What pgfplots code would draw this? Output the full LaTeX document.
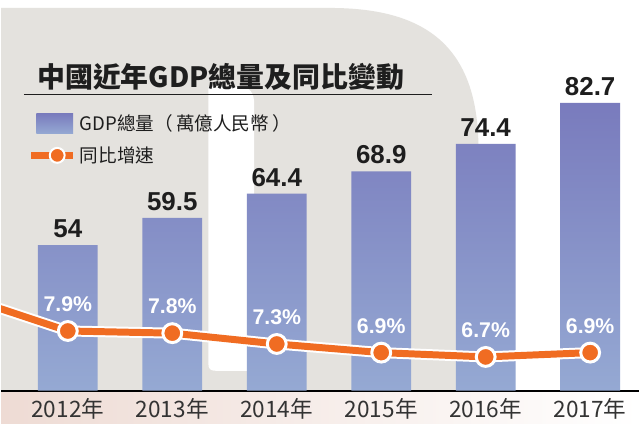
\documentclass[border=0pt]{standalone}
\usepackage{pgfplots}
\usepackage{pgfplotstable}
\pgfplotsset{compat=1.18}
\usepackage{fontspec}
\setmainfont{Liberation Sans}
\newfontfamily\cjk{Noto Sans CJK TC}
\definecolor{bgGray}{HTML}{E4E2DE}
\definecolor{barTop}{HTML}{797BBD}
\definecolor{barBot}{HTML}{95A9D3}
\definecolor{lineOr}{HTML}{F06C22}
\definecolor{txt}{HTML}{1E1E1E}
\definecolor{tick}{HTML}{333333}
\definecolor{pinkband}{HTML}{EEDBD4}

\pgfplotstableread{
x y lab
0 54 54
1 59.5 59.5
2 64.4 64.4
3 68.9 68.9
4 74.4 74.4
5 82.7 82.7
}\gdptab
\pgfplotstableread{
x y lab
0 7.9 7.9
1 7.8 7.8
2 7.3 7.3
3 6.9 6.9
4 6.7 6.7
5 6.9 6.9
}\growtab
\pgfplotstableread{
x y
-1 9.5
0 7.9
1 7.8
2 7.3
3 6.9
4 6.7
5 6.9
}\growline

\begin{document}
\begin{tikzpicture}[x=0.75pt,y=0.75pt]
% background (decorative)
\fill[white] (0,0) rectangle (640,425);
\shade[left color=pinkband, right color=white] (0,0) rectangle (640,33);
\fill[bgGray] (0,33) -- (0,417) -- (330,417) .. controls (430,417) and (479,375) .. (479,275) -- (479,45) .. controls (479,37) and (475,33) .. (469,33) -- cycle;
\fill[white] (208,60) .. controls (208,55) and (210,53) .. (215,53) -- (254,53) -- (254,320) .. controls (254,332) and (250,338) .. (238,338) -- (208,338) -- cycle;
% title
\node[anchor=west, inner sep=0pt, font=\cjk\bfseries\fontsize{21}{21}\selectfont, text=txt] at (36,348) {中國近年GDP總量及同比變動};
\draw[line width=1.1pt, txt] (23,330) -- (432,330);

\begin{axis}[
  at={(0pt,24.75pt)}, anchor=south west,
  width=480pt, height=294pt, scale only axis,
  xmin=-0.639, xmax=5.467, ymin=24.7, ymax=103.4,
  axis x line*=bottom, axis y line=none,
  x axis line style={line width=1.6pt, black, -},
  xtick={0,1,2,3,4,5},
  xticklabels={2012年,2013年,2014年,2015年,2016年,2017年},
  major tick length=0pt,
  xticklabel style={font=\cjk\fontsize{17}{17}\selectfont, text=tick, anchor=center, yshift=-14pt},
  ytick=\empty,
  ybar, bar width=0.573,
  clip=true,
]
\addplot[draw=none, top color=barTop, bottom color=barBot,
  point meta=explicit symbolic, nodes near coords,
  nodes near coords style={font=\bfseries\fontsize{19.5}{19.5}\selectfont, text=txt, anchor=south, yshift=2pt}]
  table[x=x, y=y, meta=lab] {\gdptab};
\end{axis}

\begin{axis}[
  at={(0pt,24.75pt)}, anchor=south west,
  width=480pt, height=294pt, scale only axis,
  xmin=-0.639, xmax=5.467, ymin=5.14, ymax=23.2,
  hide axis,
  legend style={at={(axis description cs:0.047,0.714)}, anchor=north west, draw=none, fill=none,
    inner sep=0pt, row sep=6.5pt, column sep=3pt,
    font=\cjk\fontsize{14}{14}\selectfont, text=txt},
  legend cell align=left,
]
\addlegendimage{legend image code/.code={\shade[draw=none, top color=barTop, bottom color=barBot] (0pt,-7.5pt) rectangle (27.75pt,7.5pt);}}
\addlegendentry{GDP總量（\,萬億人民幣\,）}
\addlegendimage{legend image code/.code={\fill[draw=none, lineOr] (-3.75pt,-2.6pt) rectangle (27.75pt,2.6pt); \filldraw[fill=lineOr, draw=white, line width=1.5pt] (15.75pt,0pt) circle (5.6pt);}}
\addlegendentry{同比增速}
\addplot[white, line width=8.25pt, line join=round, forget plot] table[x=x, y=y] {\growline};
\addplot[lineOr, line width=5.25pt, line join=round, forget plot] table[x=x, y=y] {\growline};
\addplot[only marks, mark=*, mark size=7.1pt,
  mark options={fill=lineOr, draw=white, line width=2.25pt}, forget plot,
  point meta=explicit symbolic, nodes near coords={\pgfplotspointmeta\%},
  nodes near coords style={font=\bfseries\fontsize{16}{16}\selectfont, text=white, anchor=center, yshift=20pt}]
  table[x=x, y=y, meta=lab] {\growtab};
\end{axis}
\end{tikzpicture}
\end{document}
